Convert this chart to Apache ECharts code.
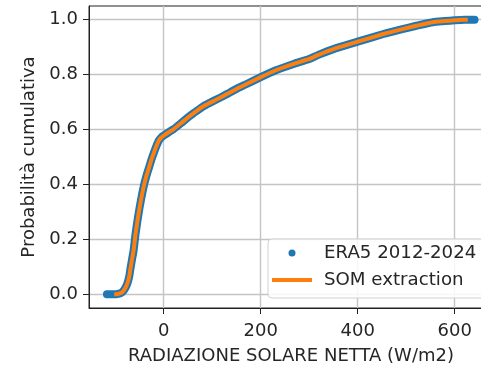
<!DOCTYPE html>
<html>
<head>
<meta charset="utf-8">
<script src="https://cdn.jsdelivr.net/npm/echarts@6/dist/echarts.min.js"></script>
<style>
html,body{margin:0;padding:0;background:#fff;overflow:hidden;}
#chart{width:481px;height:366px;}
</style>
</head>
<body>
<div id="chart"></div>
<script>
const era5X = [-117, -110, -104, -98, -92, -88, -85, -80, -75, -71, -68, -65, -62, -58, -53, -47, -40, -35, -30, -25, -20, -15, -10, -5, 0, 10, 20, 35, 50, 62, 80, 97, 115, 131, 150, 170, 199, 230, 268, 300, 319, 350, 400, 453, 490, 521, 555, 580, 600, 620, 641];
const era5P = [0, 0, 0, 0, 0.002, 0.005, 0.008, 0.02, 0.039, 0.065, 0.099, 0.13, 0.16, 0.22, 0.28, 0.342, 0.402, 0.435, 0.463, 0.492, 0.517, 0.54, 0.56, 0.571, 0.578, 0.59, 0.601, 0.622, 0.644, 0.66, 0.683, 0.699, 0.715, 0.73, 0.748, 0.765, 0.79, 0.815, 0.839, 0.857, 0.872, 0.893, 0.92, 0.948, 0.965, 0.978, 0.991, 0.995, 0.998, 1.0, 1.0];
// SOM extraction CDF
const somX = [-102, -96, -92, -88, -85, -80, -75, -71, -68, -65, -62, -58, -53, -47, -40, -35, -30, -25, -20, -15, -10, -5, 0, 10, 20, 35, 50, 62, 80, 97, 115, 131, 150, 170, 199, 230, 268, 300, 319, 350, 400, 453, 490, 521, 555, 580, 600, 615, 627];
const somP = [0, 0, 0.002, 0.005, 0.008, 0.02, 0.039, 0.065, 0.099, 0.13, 0.16, 0.22, 0.28, 0.342, 0.402, 0.435, 0.463, 0.492, 0.517, 0.54, 0.56, 0.571, 0.578, 0.59, 0.601, 0.622, 0.644, 0.66, 0.683, 0.699, 0.715, 0.73, 0.748, 0.765, 0.79, 0.815, 0.839, 0.857, 0.872, 0.893, 0.92, 0.948, 0.965, 0.978, 0.991, 0.995, 0.998, 1.0, 1.0];
const xTicks = [0, 200, 400, 600];
const yTicks = [0, 0.2, 0.4, 0.6, 0.8, 1.0];
const seriesNames = ['ERA5 2012-2024', 'SOM extraction'];
const xTitle = 'RADIAZIONE SOLARE NETTA (W/m2)';
const yTitle = 'Probabilità cumulativa';

const FONT = 'DejaVu Sans';
const FS = 18;
const TXT = '#262626';
const chart = echarts.init(document.getElementById('chart'), null, {renderer: 'canvas'});
chart.setOption({
  animation: false,
  textStyle: {fontFamily: FONT},
  grid: {left: 89, top: 6, width: 404, height: 302, show: true, borderColor: '#222', borderWidth: 1,
    containLabel: false, outerBoundsMode: 'none'},
  xAxis: {
    type: 'value', min: -154, max: 679,
    name: xTitle, nameLocation: 'middle', nameGap: 39,
    nameTextStyle: {fontFamily: FONT, fontSize: FS, color: TXT},
    axisLine: {show: true, onZero: false, lineStyle: {color: '#222', width: 1}},
    axisTick: {show: true, length: 6, customValues: xTicks, lineStyle: {color: '#222', width: 1}},
    axisLabel: {customValues: xTicks, margin: 14, fontFamily: FONT, fontSize: FS, color: TXT},
    splitLine: {show: true, lineStyle: {color: '#c4c4c4', width: 1.4}}
  },
  yAxis: {
    type: 'value', min: -0.05, max: 1.05,
    name: yTitle, nameLocation: 'middle', nameGap: 51,
    nameTextStyle: {fontFamily: FONT, fontSize: FS, color: TXT},
    axisLine: {show: true, onZero: false, lineStyle: {color: '#222', width: 1}},
    axisTick: {show: true, length: 6, customValues: yTicks, lineStyle: {color: '#222', width: 1}},
    axisLabel: {customValues: yTicks, margin: 11, fontFamily: FONT, fontSize: FS, color: TXT,
      formatter: v => v.toFixed(1)},
    splitLine: {show: true, lineStyle: {color: '#c4c4c4', width: 1.4}}
  },
  legend: {
    orient: 'vertical', left: 268, top: 239,
    padding: [5, 20, 9, 4],
    itemWidth: 40, itemHeight: 7, itemGap: 9,
    symbolKeepAspect: true,
    backgroundColor: 'rgba(255,255,255,0.85)',
    borderColor: '#d0d0d0', borderWidth: 1, borderRadius: 4,
    textStyle: {fontFamily: FONT, fontSize: 18.2, color: TXT, lineHeight: 18, padding: [0, 0, 0, 7]},
    data: [
      {name: seriesNames[0], icon: 'circle'},
      {name: seriesNames[1], icon: 'path://M0,0 L40,0 L40,4 L0,4 Z'}
    ]
  },
  series: [
    {
      name: seriesNames[0], type: 'line', color: '#1f77b4',
      data: era5X.map((x, i) => [x, era5P[i]]),
      showSymbol: false, symbol: 'circle', smooth: 0.2,
      lineStyle: {width: 8, color: '#1f77b4', cap: 'round', join: 'round'},
      z: 2
    },
    {
      name: seriesNames[1], type: 'line', color: '#ff7f0e',
      data: somX.map((x, i) => [x, somP[i]]),
      showSymbol: false, symbol: 'none', smooth: 0.2,
      lineStyle: {width: 4, color: '#ff7f0e', cap: 'butt', join: 'round'},
      z: 3
    }
  ]
});
</script>
</body>
</html>
